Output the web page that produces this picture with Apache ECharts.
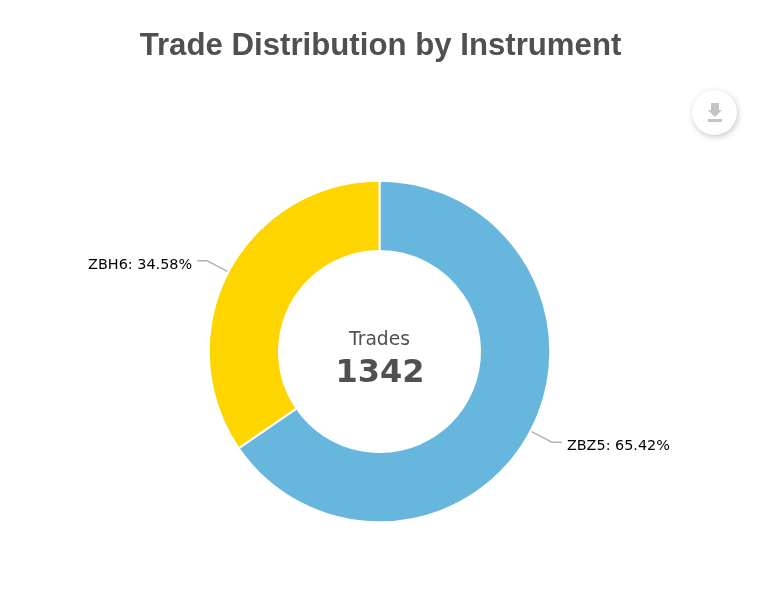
<!DOCTYPE html>
<html>
<head>
<meta charset="utf-8">
<style>html,body{margin:0;padding:0;background:#fff}#c{width:758px;height:590px}</style>
<script src="https://cdn.jsdelivr.net/npm/echarts@6/dist/echarts.min.js"></script>
</head>
<body>
<div id="c"></div>
<script>
const chartTitle = "Trade Distribution by Instrument";
const categories = ["ZBZ5", "ZBH6"];
const shares = [65.42, 34.58];
const sliceColors = ["#67b6dd", "#ffd500"];
const centerCaption = "Trades";
const centerTotal = "1342";

const chart = echarts.init(document.getElementById("c"), null, {renderer: "canvas"});
chart.setOption({
  animation: false,
  backgroundColor: "#fff",
  title: [
    {text: chartTitle, left: 375.5, top: 26, textAlign: "center",
     textStyle: {fontFamily: "Liberation Sans", fontSize: 31.2, fontWeight: "bold", color: "#505050"}},
    {text: centerCaption, left: 374.5, top: 326, textAlign: "center",
     textStyle: {fontFamily: "DejaVu Sans", fontSize: 18.7, fontWeight: "normal", color: "#505050"}},
    {text: centerTotal, left: 375, top: 353, textAlign: "center",
     textStyle: {fontFamily: "DejaVu Sans", fontSize: 32, fontWeight: "bold", color: "#505050"}}
  ],
  graphic: [
    {type: "circle", shape: {cx: 714.5, cy: 112.5, r: 22.5},
     style: {fill: "#fff", shadowBlur: 6, shadowColor: "rgba(0,0,0,0.22)", shadowOffsetX: 1, shadowOffsetY: 2}},
    {type: "polygon", shape: {points: [[711,103],[719,103],[719,110],[722,110],[715,117],[708,110],[711,110]]},
     style: {fill: "#c4c4c4"}},
    {type: "rect", shape: {x: 708, y: 119, width: 14, height: 3}, style: {fill: "#c4c4c4"}}
  ],
  series: [{
    type: "pie",
    center: [379.5, 351.5],
    radius: [100.5, 170.8],
    startAngle: 90,
    clockwise: true,
    itemStyle: {borderColor: "#fff", borderWidth: 2},
    label: {
      show: true,
      formatter: p => p.name + ": " + p.value.toFixed(2) + "%",
      fontFamily: "DejaVu Sans",
      fontSize: 14.4,
      color: "#000",
      offset: [0, 4]
    },
    labelLine: {show: true, length: 24, length2: 10, lineStyle: {color: "#b4b4b4", width: 1.5}},
    emphasis: {disabled: true},
    data: categories.map((n, i) => ({name: n, value: shares[i], itemStyle: {color: sliceColors[i]}}))
  }]
});
</script>
</body>
</html>
